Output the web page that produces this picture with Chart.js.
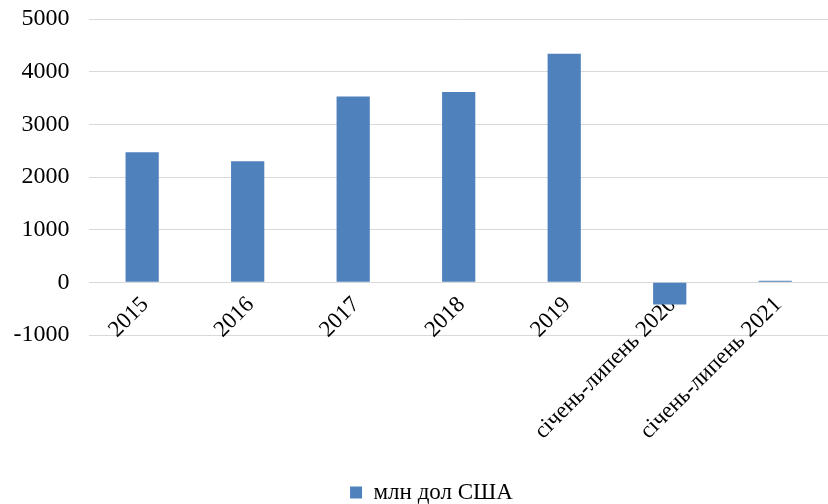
<!DOCTYPE html>
<html>
<head>
<meta charset="utf-8">
<script src="https://cdn.jsdelivr.net/npm/chart.js@4/dist/chart.umd.min.js"></script>
<style>
  html, body { margin: 0; padding: 0; background: #ffffff; }
  #wrap { width: 828px; height: 504px; }
</style>
</head>
<body>
<div id="wrap"><canvas id="c" width="828" height="504"></canvas></div>
<script>
const categories = ["2015", "2016", "2017", "2018", "2019", "січень-липень 2020", "січень-липень 2021"];
const seriesName = "млн дол США";
const values = [2470, 2300, 3530, 3615, 4340, -420, 28];
const yTicks = [-1000, 0, 1000, 2000, 3000, 4000, 5000];

const FONT = "'Liberation Serif', 'Times New Roman', serif";
const textColor = "#000000";
const gridColor = "#d9d9d9";

const legendShift = {
  id: "legendShift",
  afterLayout(chart) {
    if (chart.legend) { chart.legend.left += 7; chart.legend.right += 7; }
  }
};

new Chart(document.getElementById("c"), {
  type: "bar",
  data: {
    labels: categories,
    datasets: [{
      label: seriesName,
      data: values,
      backgroundColor: "#4f81bd",
      borderWidth: 0,
      barPercentage: 0.315,
      categoryPercentage: 1.0
    }]
  },
  plugins: [legendShift],
  options: {
    responsive: false,
    animation: false,
    devicePixelRatio: 1,
    layout: { padding: { top: 19, left: 12, right: -9, bottom: -10 } },
    plugins: {
      legend: {
        display: true,
        position: "bottom",
        labels: {
          color: textColor,
          font: { family: FONT, size: 23 },
          boxWidth: 12,
          boxHeight: 12,
          padding: 146
        }
      },
      tooltip: { enabled: false }
    },
    scales: {
      x: {
        position: { y: 0 },
        offset: true,
        grid: { display: false, drawTicks: false },
        border: { display: false },
        ticks: {
          color: textColor,
          font: { family: FONT, size: 23 },
          minRotation: 45,
          maxRotation: 45,
          autoSkip: false,
          padding: 9,
          labelOffset: 3
        }
      },
      y: {
        min: yTicks[0],
        max: yTicks[yTicks.length - 1],
        afterBuildTicks: (s) => { s.ticks = yTicks.map(v => ({ value: v })); },
        afterFit: (s) => { s.width = 77.4; s.paddingTop = 0; s.paddingBottom = 0; },
        grid: { color: gridColor, lineWidth: 1, drawTicks: false },
        border: { display: false },
        ticks: {
          color: textColor,
          font: { family: FONT, size: 24 },
          padding: 20,
          callback: (v) => String(v)
        }
      }
    }
  }
});
</script>
</body>
</html>
